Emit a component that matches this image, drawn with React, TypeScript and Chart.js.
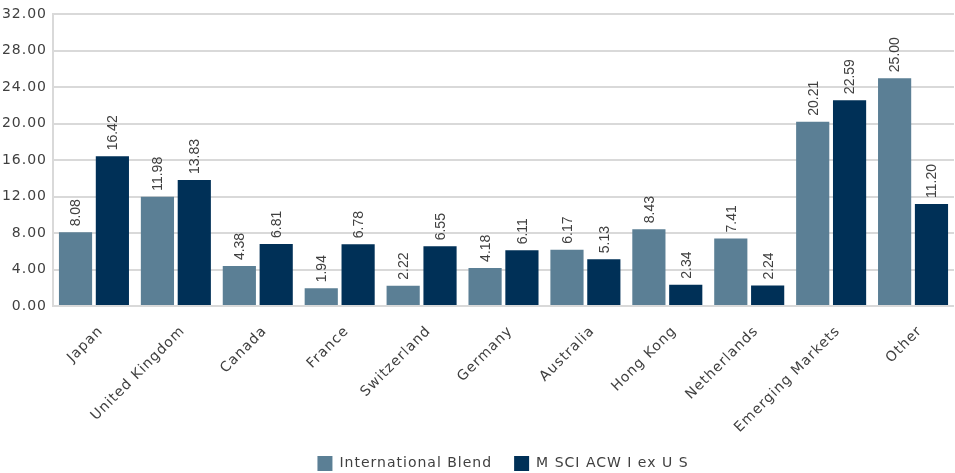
import React, { useEffect, useRef } from "react";
import { Chart, registerables } from "chart.js";

Chart.register(...registerables);

const categories = [
  "Japan",
  "United Kingdom",
  "Canada",
  "France",
  "Switzerland",
  "Germany",
  "Australia",
  "Hong Kong",
  "Netherlands",
  "Emerging Markets",
  "Other",
];
const internationalBlend = [8.08, 11.98, 4.38, 1.94, 2.22, 4.18, 6.17, 8.43, 7.41, 20.21, 25.0];
const msciAcwiExUs = [16.42, 13.83, 6.81, 6.78, 6.55, 6.11, 5.13, 2.34, 2.24, 22.59, 11.2];
const seriesNames = ["International Blend", "M SCI ACW I ex U S"];
const yTicks = { min: 0, max: 32, step: 4 };

const spacing = {
  id: "spacing",
  beforeInit(chart: any) {
    chart.ctx.letterSpacing = "1px";
  },
  beforeUpdate(chart: any) {
    chart.ctx.letterSpacing = "1px";
  },
  afterLayout(chart: any) {
    // center the legend under the plot area rather than the whole canvas
    const shift = (chart.chartArea.left + chart.chartArea.right) / 2 - chart.width / 2;
    if (chart.legend) {
      chart.legend.left += shift;
      chart.legend.right += shift;
    }
  },
  beforeDraw(chart: any) {
    chart.ctx.letterSpacing = "1px";
  },
};

const valueLabels = {
  id: "valueLabels",
  afterDatasetsDraw(chart: any) {
    const ctx = chart.ctx;
    ctx.save();
    ctx.letterSpacing = "0px";
    ctx.font = "14px 'Liberation Sans', Arial, sans-serif";
    ctx.fillStyle = "#404040";
    ctx.textAlign = "left";
    ctx.textBaseline = "middle";
    chart.data.datasets.forEach((ds: any, di: number) => {
      const meta = chart.getDatasetMeta(di);
      meta.data.forEach((bar: any, i: number) => {
        const v = ds.data[i] as number;
        ctx.save();
        ctx.translate(bar.x, bar.y - 6);
        ctx.rotate(-Math.PI / 2);
        ctx.fillText(v.toFixed(2), 0, 1);
        ctx.restore();
      });
    });
    ctx.restore();
  },
};

export default function App() {
  const ref = useRef<HTMLCanvasElement>(null);
  useEffect(() => {
    document.body.style.margin = "0";
    const chart = new Chart(ref.current!, {
      type: "bar",
      data: {
        labels: categories,
        datasets: [
          {
            label: seriesNames[0],
            data: internationalBlend,
            backgroundColor: "#5B7F95",
            categoryPercentage: 0.9,
            barPercentage: 0.9,
          },
          {
            label: seriesNames[1],
            data: msciAcwiExUs,
            backgroundColor: "#003057",
            categoryPercentage: 0.9,
            barPercentage: 0.9,
          },
        ],
      },
      options: {
        animation: false,
        responsive: false,
        layout: { padding: { top: 14, right: 1, left: 0, bottom: -8 } },
        plugins: {
          tooltip: { enabled: false },
          legend: {
            position: "bottom",
            labels: {
              font: { family: "'DejaVu Sans', sans-serif", size: 14 },
              color: "#404040",
              boxWidth: 15,
              boxHeight: 15,
              padding: 22,
            },
          },
        },
        scales: {
          x: {
            grid: { display: false },
            border: { display: false },
            ticks: {
              color: "#404040",
              font: { family: "'DejaVu Sans', sans-serif", size: 14 },
              minRotation: 45,
              maxRotation: 45,
              padding: 9,
              labelOffset: 7,
            },
            afterFit: (s: any) => {
              s.height = 128;
            },
          },
          y: {
            min: yTicks.min,
            max: yTicks.max,
            grid: { color: "#D9D9D9", lineWidth: 2, drawTicks: false },
            border: { display: true, color: "#D9D9D9", width: 2 },
            ticks: {
              stepSize: yTicks.step,
              color: "#404040",
              font: { family: "'DejaVu Sans', sans-serif", size: 14 },
              padding: 6,
              callback: (v: any) => Number(v).toFixed(2),
            },
            afterFit: (s: any) => {
              s.width = 53;
            },
          },
        },
      },
      plugins: [spacing, valueLabels],
    });
    return () => chart.destroy();
  }, []);
  return (
    <div style={{ width: 955, height: 473 }}>
      <canvas ref={ref} width={955} height={473} />
    </div>
  );
}
